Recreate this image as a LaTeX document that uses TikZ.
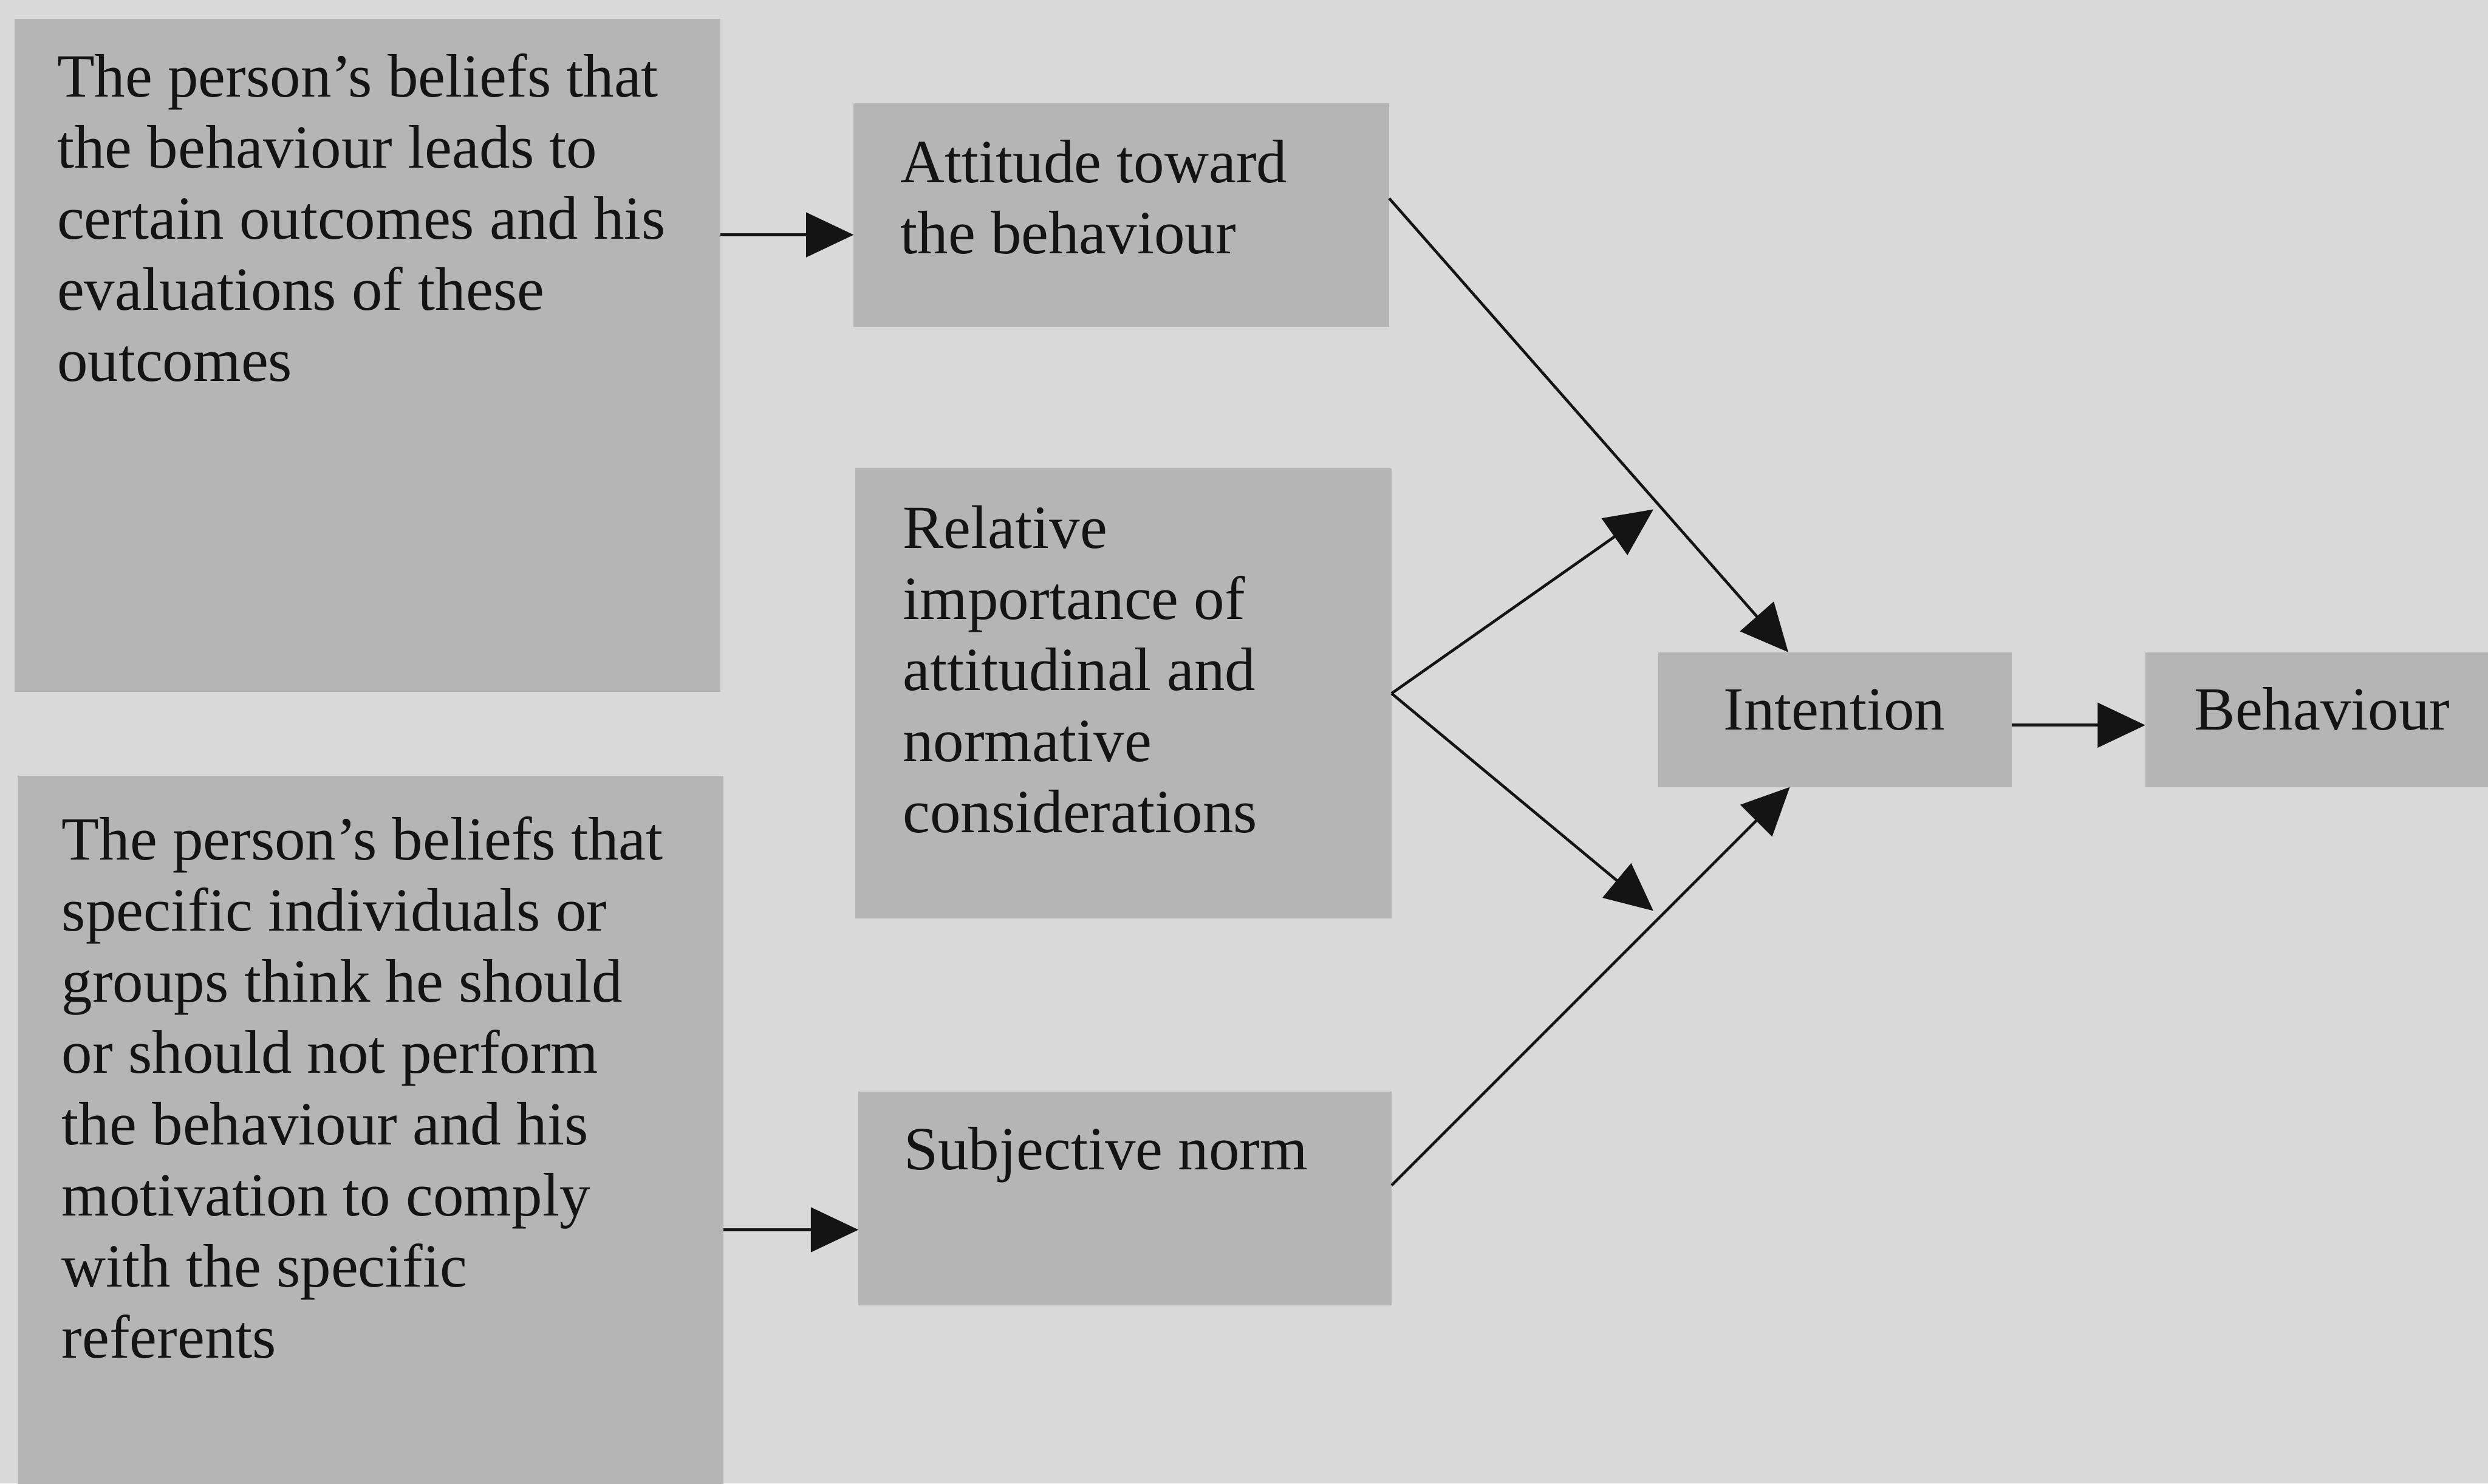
\documentclass[tikz,border=0pt]{standalone}
\usepackage{fontspec}
\setmainfont{Liberation Serif}
\usetikzlibrary{arrows.meta,calc}
\definecolor{paper}{HTML}{D9D9D9}
\definecolor{boxgray}{HTML}{B5B5B5}
\definecolor{ink}{HTML}{141414}
\newcommand{\boxfont}{\fontsize{11}{12.75}\selectfont}
\newcommand{\lines}[1]{\parbox[t]{60mm}{\raggedright #1}}
\begin{document}
\begin{tikzpicture}[x=0.1mm,y=-0.1mm,
  box/.style={fill=boxgray, draw=none, inner sep=0pt, outer sep=0pt, anchor=north west},
  boxtext/.style={inner sep=0pt, outer sep=0pt, anchor=base west, text=ink, font=\boxfont},
  arr/.style={draw=ink, line width=0.5pt, -{Triangle[length=3mm,width=2.8mm]}}]

\clip (0,0) rectangle (1568,935);
\fill[paper] (0,0) rectangle (1568,935);

% shaded boxes
\node[box, minimum width=44.5mm, minimum height=42.4mm] (beliefs) at (9,12) {};
\node[box, minimum width=44.5mm, minimum height=46mm] (normbeliefs) at (11,489) {};
\node[box, minimum width=33.75mm, minimum height=14.1mm] (attitude) at (538,65) {};
\node[box, minimum width=33.8mm, minimum height=28.4mm] (relative) at (539,295) {};
\node[box, minimum width=33.6mm, minimum height=13.45mm] (subjective) at (541,688) {};
\node[box, minimum width=22.3mm, minimum height=8.5mm] (intention) at (1045,411) {};
\node[box, minimum width=23mm, minimum height=8.5mm] (behaviour) at (1352,411) {};

% texts
\node[boxtext] (beliefs-t) at (36,61) {\lines{The person’s beliefs that\\the behaviour leads to\\certain outcomes and his\\evaluations of these\\outcomes}};
\node[boxtext] (normbeliefs-t) at (39,542) {\lines{The person’s beliefs that\\specific individuals or\\groups think he should\\or should not perform\\the behaviour and his\\motivation to comply\\with the specific\\referents}};
\node[boxtext] (attitude-t) at (567.5,115) {\lines{Attitude toward\\the behaviour}};
\node[boxtext] (relative-t) at (569,345.5) {\lines{Relative\\importance of\\attitudinal and\\normative\\considerations}};
\node[boxtext] (subjective-t) at (569.7,737) {Subjective norm};
\node[boxtext, anchor=base] (intention-t) at (1156,460) {Intention};
\node[boxtext] (behaviour-t) at (1383,460) {Behaviour};

% connector end points on the box borders
\coordinate (att-in) at ($(attitude.west)+(0,12.5)$);
\coordinate (subj-in) at ($(subjective.west)+(0,19.75)$);
\coordinate (att-out) at ($(attitude.east)+(0,-10.5)$);
\coordinate (int-top) at ($(intention.north)+(-29.5,0)$);
\coordinate (subj-out) at ($(subjective.east)+(0,-8.25)$);
\coordinate (int-bot) at ($(intention.south)+(-28.5,0)$);
\coordinate (int-out) at ($(intention.east)+(0,3.5)$);
\coordinate (rel-up) at (1042,321);
\coordinate (rel-down) at (1042,574);

% arrows
\draw[arr] (beliefs.east |- att-in) -- (att-in);
\draw[arr] (normbeliefs.east |- subj-in) -- (subj-in);
\draw[arr] (att-out) -- (int-top);
\draw[arr] (relative.east) -- (rel-up);
\draw[arr] (relative.east) -- (rel-down);
\draw[arr] (subj-out) -- (int-bot);
\draw[arr] (int-out) -- (behaviour.west |- int-out);
\end{tikzpicture}
\end{document}
